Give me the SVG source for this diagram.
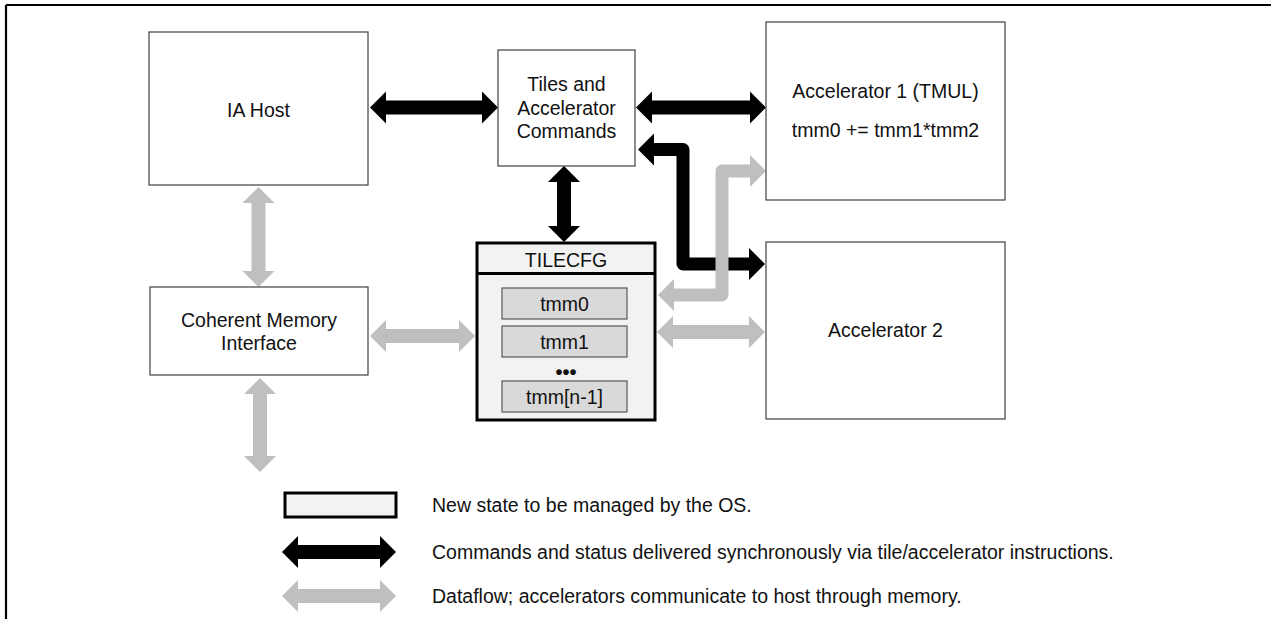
<svg xmlns="http://www.w3.org/2000/svg" width="1271" height="619" viewBox="0 0 1271 619">
<style>
  .box{fill:#fff;stroke:#404040;stroke-width:1.2}
  .t{font-family:"Liberation Sans",Arial,sans-serif;font-size:19.5px;fill:#111;text-anchor:middle}
  .lt{font-family:"Liberation Sans",Arial,sans-serif;font-size:19.5px;fill:#111}
  .blk{fill:#000}
  .gry{fill:#bfbfbf}
  .blkline{fill:none;stroke:#000;stroke-width:13;stroke-linejoin:round}
  .gryline{fill:none;stroke:#bfbfbf;stroke-width:13;stroke-linejoin:round}
  .state{fill:#f2f2f2;stroke:#000;stroke-width:3}
  .reg{fill:#d9d9d9;stroke:#595959;stroke-width:1.2}
</style>
<g id="frame">
  <path d="M6,5 H1271 M6,5 V619" fill="none" stroke="#000" stroke-width="2.2"/>
</g>
<g id="connectors">
  <polygon class="blk" points="370,107.5 386,91.5 386,100.5 482,100.5 482,91.5 498,107.5 482,123.5 482,114.5 386,114.5 386,123.5"/>
  <polygon class="blk" points="636,107.5 652,91.5 652,100.5 750,100.5 750,91.5 766,107.5 750,123.5 750,114.5 652,114.5 652,123.5"/>
  <polygon class="blk" points="564,166 580,182 571,182 571,226 580,226 564,242 548,226 557,226 557,182 548,182"/>
  <path class="blkline" d="M652,149.5 H683 V264 H751"/>
  <polygon class="blk" points="638,149.5 654,133.5 654,165.5"/>
  <polygon class="blk" points="765,264 749,248 749,280"/>
  <path class="gryline" d="M752,171 H722 V295 H672"/>
  <polygon class="gry" points="766,171 750,155 750,187"/>
  <polygon class="gry" points="658,295 674,279 674,311"/>
  <polygon class="gry" points="657,332 673,316 673,325 749,325 749,316 765,332 749,348 749,339 673,339 673,348"/>
  <polygon class="gry" points="370,336 386,320 386,329 459,329 459,320 475,336 459,352 459,343 386,343 386,352"/>
  <polygon class="gry" points="258.5,187 274.5,203 265.5,203 265.5,271 274.5,271 258.5,287 242.5,271 251.5,271 251.5,203 242.5,203"/>
  <polygon class="gry" points="260,378 276,394 267,394 267,456 276,456 260,472 244,456 253,456 253,394 244,394"/>
</g>
<g id="ia-host">
  <rect class="box" x="149" y="32" width="219" height="153"/>
  <text class="t" x="258.5" y="117">IA Host</text>
</g>
<g id="tiles-commands">
  <rect class="box" x="498" y="50" width="137" height="116"/>
  <text class="t" x="566.5" y="91">Tiles and</text>
  <text class="t" x="566.5" y="115">Accelerator</text>
  <text class="t" x="566.5" y="138">Commands</text>
</g>
<g id="accelerator-1">
  <rect class="box" x="766" y="22" width="239" height="178"/>
  <text class="t" x="885.5" y="98">Accelerator 1 (TMUL)</text>
  <text class="t" x="885.5" y="137">tmm0 += tmm1*tmm2</text>
</g>
<g id="coherent-memory">
  <rect class="box" x="150" y="287" width="218" height="88"/>
  <text class="t" x="259" y="327">Coherent Memory</text>
  <text class="t" x="259" y="350">Interface</text>
</g>
<g id="tilecfg">
  <rect class="state" x="477" y="243" width="178" height="177"/>
  <line x1="477" y1="273.5" x2="655" y2="273.5" stroke="#000" stroke-width="3"/>
  <text class="t" x="566" y="267">TILECFG</text>
  <rect class="reg" x="502" y="288" width="125" height="31"/>
  <text class="t" x="564.5" y="311">tmm0</text>
  <rect class="reg" x="502" y="326" width="125" height="31"/>
  <text class="t" x="564.5" y="349">tmm1</text>
  <text class="t" x="566" y="379" style="font-size:20px;font-weight:bold">•••</text>
  <rect class="reg" x="502" y="381" width="125" height="31"/>
  <text class="t" x="564.5" y="404">tmm[n-1]</text>
</g>
<g id="accelerator-2">
  <rect class="box" x="766" y="242" width="239" height="177"/>
  <text class="t" x="885.5" y="337">Accelerator 2</text>
</g>
<g id="legend">
  <rect class="state" x="285" y="493" width="111" height="24"/>
  <text class="lt" x="432" y="512">New state to be managed by the OS.</text>
  <polygon class="blk" points="282,552 298,536 298,545 380,545 380,536 396,552 380,568 380,559 298,559 298,568"/>
  <text class="lt" x="432" y="559">Commands and status delivered synchronously via tile/accelerator instructions.</text>
  <polygon class="gry" points="282,596 298,580 298,589 380,589 380,580 396,596 380,612 380,603 298,603 298,612"/>
  <text class="lt" x="432" y="603">Dataflow; accelerators communicate to host through memory.</text>
</g>
</svg>
